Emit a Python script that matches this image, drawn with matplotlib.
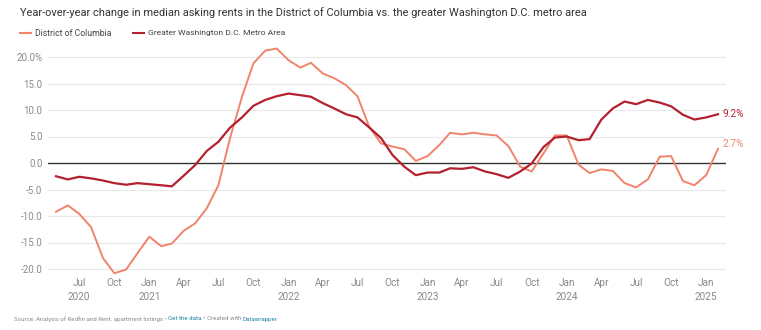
import pandas as pd
import matplotlib
matplotlib.use('Agg')
import matplotlib.pyplot as plt

plt.rcParams['font.family'] = ['Roboto', 'DejaVu Sans']

months = pd.date_range('2020-05-01', periods=58, freq='MS')

dc = [-9.2, -8.0, -9.6, -12.1, -17.9, -20.8, -20.1, -17.0,
      -13.9, -15.7, -15.2, -12.8, -11.4, -8.5, -4.2, 4.8, 12.5, 18.8, 21.2, 21.6,
      19.4, 18.0, 18.9, 16.9, 16.0, 14.7, 12.6, 6.8, 3.7, 3.1, 2.6, 0.4,
      1.3, 3.4, 5.7, 5.4, 5.7, 5.4, 5.2, 3.2, -0.7, -1.6, 1.8, 5.2,
      5.2, -0.3, -1.9, -1.2, -1.5, -3.8, -4.6, -3.1, 1.2, 1.3, -3.4, -4.2,
      -2.3, 2.7]

metro = [-2.5, -3.1, -2.6, -2.9, -3.3, -3.8, -4.1, -3.8,
         -4.0, -4.2, -4.4, -2.4, -0.4, 2.3, 4.0, 6.7, 8.6, 10.8, 11.9, 12.6,
         13.1, 12.8, 12.5, 11.3, 10.3, 9.2, 8.6, 6.7, 4.7, 1.5, -0.7, -2.3,
         -1.8, -1.8, -1.0, -1.1, -0.8, -1.6, -2.1, -2.8, -1.6, -0.1, 3.0, 4.8,
         5.0, 4.3, 4.5, 8.2, 10.3, 11.6, 11.1, 11.9, 11.4, 10.7, 9.1, 8.2,
         8.6, 9.2]

yticks = [-20, -15, -10, -5, 0, 5, 10, 15, 20]
ylabels = ['-20.0', '-15.0', '-10.0', '-5.0', '0.0', '5.0', '10.0', '15.0', '20.0%']

light = '#f0846b'
dark = '#b3202e'
grey = '#8a8a8a'

fig = plt.figure(figsize=(7.61, 3.3), dpi=100)
W, H = 761, 330

# axes box in pixels: x 48..726, y top 43.75 .. bottom 276.95
ax = fig.add_axes([48 / W, (H - 276.95) / H, 678 / W, 233.2 / H])
ax.set_ylim(-21.5, 22.5)
pad = pd.Timedelta(days=21)
ax.set_xlim(months[0] - pad, months[-1] + pad)

for v in yticks:
    if v == 0:
        ax.axhline(v, color='#333333', lw=1.0, zorder=2)
    else:
        ax.axhline(v, color='#e9e9e9', lw=0.8, zorder=1)

ax.plot(months, dc, color=light, lw=1.4, zorder=3)
ax.plot(months, metro, color=dark, lw=1.6, zorder=4)

ax.text(months[-1] + pd.Timedelta(days=12), metro[-1], f'{metro[-1]}%', color=dark,
        fontsize=7.3, va='center', ha='left')
ax.text(months[-1] + pd.Timedelta(days=12), dc[-1] + 0.9, f'{dc[-1]}%', color=light,
        fontsize=7.3, va='center', ha='left')

for s in ax.spines.values():
    s.set_visible(False)

ax.set_yticks(yticks)
ax.set_yticklabels(ylabels)
ax.tick_params(axis='y', length=0, pad=4, labelsize=7, labelcolor=grey)

ticks = pd.date_range('2020-07-01', '2025-01-01', freq='3MS')
labels = []
for i, t in enumerate(ticks):
    name = t.strftime('%b')
    if t.month == 1 or i == 0:
        labels.append(f'{name}\n{t.year}')
    else:
        labels.append(name)
ax.set_xticks(ticks)
ax.set_xticklabels(labels, linespacing=1.4)
ax.tick_params(axis='x', length=0, pad=1, labelsize=7.2, labelcolor=grey)

fig.text(20 / W, 1 - 13 / H, 'Year-over-year change in median asking rents in the District of Columbia vs. the greater Washington D.C. metro area',
         fontsize=7.95, color='#333333', va='center', ha='left')

# legend
ly = 1 - 33 / H
fig.add_artist(plt.Line2D([20 / W, 31 / W], [ly, ly], color=light, lw=1.5))
fig.text(35 / W, ly, 'District of Columbia', fontsize=6.2, color='#444444', va='center')
fig.add_artist(plt.Line2D([133 / W, 144 / W], [ly, ly], color=dark, lw=1.5))
fig.text(148 / W, ly, 'Greater Washington D.C. Metro Area', fontsize=6.1, color='#444444', va='center')

# source line, pieces placed one after another
parts = [('Source: Analysis of Redfin and Rent. apartment listings \u2022 ', '#8a8a8a'),
         ('Get the data', '#1d81a2'),
         (' \u2022 Created with ', '#8a8a8a'),
         ('Datawrapper', '#1d81a2')]
fig.canvas.draw()
renderer = fig.canvas.get_renderer()
x = 14
for txt, col in parts:
    t = fig.text(x / W, 1 - 319 / H, txt, fontsize=4.4, color=col, va='center', ha='left')
    x += t.get_window_extent(renderer).width

fig.savefig('out.png', dpi=100)
